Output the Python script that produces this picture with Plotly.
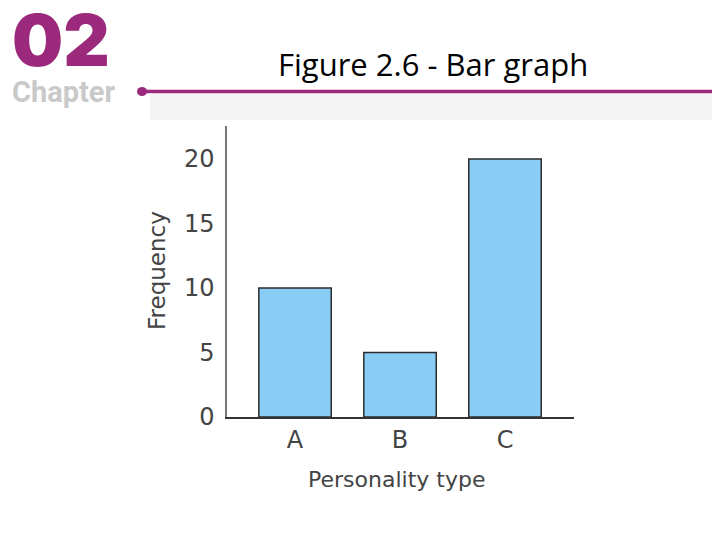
import plotly.graph_objects as go

# data
categories = ["A", "B", "C"]
frequency = [10, 5, 20]
y_ticks = [0, 5, 10, 15, 20]

# the page adds an 8px body margin, so work in page pixels minus that offset
OFF = 8
L, R, T, B = 227 - OFF, 574 - OFF, 126 - OFF, 417 - OFF
W, H = 720, 540


def px(x):
    return (x - OFF - L) / (R - L)


def py(y):
    return (B - (y - OFF)) / (B - T)


purple = "#9c2a7c"
text_col = "#444444"
axis_font = "DejaVu Sans, sans-serif"

fig = go.Figure(go.Bar(
    x=categories,
    y=frequency,
    width=0.69,
    marker=dict(color="#88cdf6", line=dict(color="#2b2b2b", width=1.5)),
))

fig.update_layout(
    width=W, height=H,
    margin=dict(l=L, r=W - R, t=T, b=H - B),
    paper_bgcolor="white", plot_bgcolor="white",
    showlegend=False,
    font=dict(family=axis_font, color=text_col),
)

fig.update_xaxes(
    range=[-0.648, 2.657], showgrid=False, zeroline=False,
    showline=True, linecolor="#333", linewidth=1.5,
    ticks="", ticklabelstandoff=0,
    tickfont=dict(size=24, color=text_col),
)
fig.update_yaxes(
    range=[0, 22.56], showgrid=False, zeroline=False,
    showline=True, linecolor="#777", linewidth=1.5,
    ticks="", tickvals=y_ticks, ticklabelstandoff=6,
    tickfont=dict(size=24, color=text_col),
)

# axis titles
fig.add_annotation(text="Frequency", xref="paper", yref="paper",
                   x=px(157), y=py(271), xanchor="center", yanchor="middle",
                   textangle=-90, showarrow=False,
                   font=dict(size=23, color=text_col))
fig.add_annotation(text="Personality type", xref="paper", yref="paper",
                   x=px(396), y=py(479), xanchor="center", yanchor="middle",
                   showarrow=False, font=dict(size=22, color=text_col))

# slide header
fig.add_shape(type="rect", xref="paper", yref="paper",
              x0=px(150), x1=px(730), y0=py(120), y1=py(94),
              fillcolor="#f4f4f4", line=dict(width=0), layer="below")
fig.add_shape(type="line", xref="paper", yref="paper",
              x0=px(142), x1=px(730), y0=py(91.5), y1=py(91.5),
              line=dict(color=purple, width=3.5))
fig.add_shape(type="circle", xref="paper", yref="paper",
              x0=px(137), x1=px(147), y0=py(96), y1=py(87),
              fillcolor=purple, line=dict(width=0))
fig.add_annotation(text="02", xref="paper", yref="paper",
                   x=px(10), y=py(40), xanchor="left", yanchor="middle",
                   showarrow=False,
                   font=dict(family="Inter, Roboto, sans-serif", size=72,
                             color=purple, weight=900))
fig.add_annotation(text="Chapter", xref="paper", yref="paper",
                   x=px(10), y=py(92), xanchor="left", yanchor="middle",
                   showarrow=False,
                   font=dict(family="Roboto, sans-serif", size=29,
                             color="#c9c9c9", weight=700))
fig.add_annotation(text="Figure 2.6 - Bar graph", xref="paper", yref="paper",
                   x=px(433), y=py(64), xanchor="center", yanchor="middle",
                   showarrow=False,
                   font=dict(family="Open Sans, sans-serif", size=31, color="black"))

fig.write_html("out.html")
